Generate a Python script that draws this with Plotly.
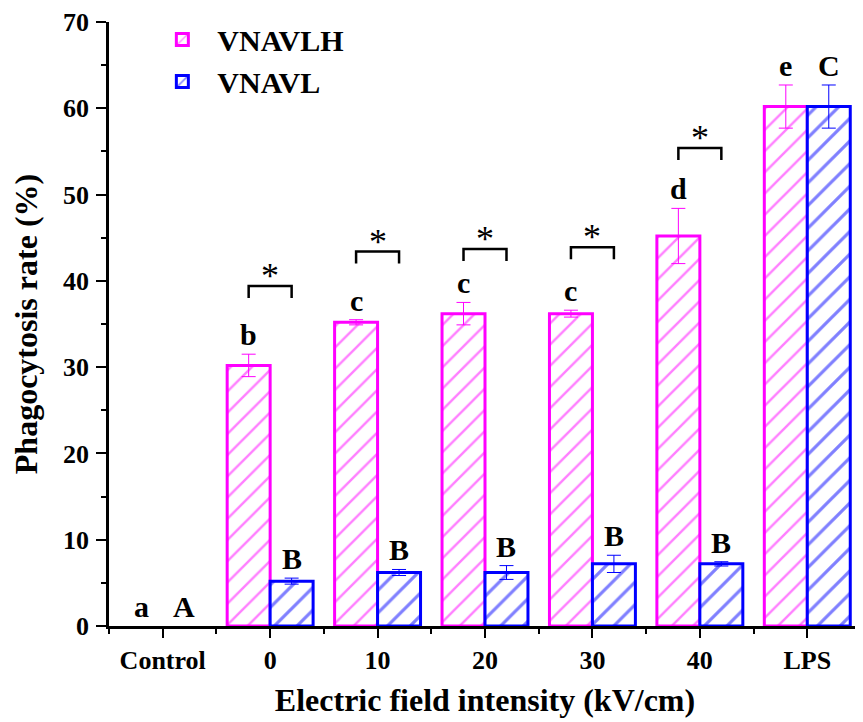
import plotly.graph_objects as go

categories = ["Control", "0", "10", "20", "30", "40", "LPS"]
vnavlh = [0, 30.2, 35.2, 36.2, 36.2, 45.2, 60.2]
vnavlh_err = [0, 1.3, 0.3, 1.3, 0.4, 3.2, 2.5]
vnavl = [0, 5.2, 6.2, 6.2, 7.2, 7.2, 60.2]
vnavl_err = [0, 0.35, 0.35, 0.8, 1.0, 0.25, 2.5]
letters_h = ["a", "b", "c", "c", "c", "d", "e"]
letters_l = ["A", "B", "B", "B", "B", "B", "C"]
sig_groups = ["0", "10", "20", "30", "40"]
sig_levels = [39.4, 43.4, 43.7, 43.9, 55.4]

MAG = "#FF00FF"
BLU = "#0000FF"
FONT = "Liberation Serif"

x = list(range(len(categories)))


def visible(vals):
    # a zero-height bar is not drawn in the reference
    return [v if v else None for v in vals]


fig = go.Figure()
fig.add_trace(go.Bar(
    x=x, y=visible(vnavlh), name="VNAVLH",
    marker=dict(color="white", line=dict(color=MAG, width=3),
                pattern=dict(shape="/", fgcolor=MAG, bgcolor="white", size=15, solidity=0.16)),
    error_y=dict(type="data", array=vnavlh_err, color=MAG, thickness=1, width=7),
))
fig.add_trace(go.Bar(
    x=x, y=visible(vnavl), name="VNAVL",
    marker=dict(color="white", line=dict(color=BLU, width=3),
                pattern=dict(shape="/", fgcolor=BLU, bgcolor="white", size=16, solidity=0.2)),
    error_y=dict(type="data", array=vnavl_err, color=BLU, thickness=1, width=7),
))

off = 0.2
annotations = []
for i in x:
    annotations.append(dict(x=i - off, y=vnavlh[i] + vnavlh_err[i], text=letters_h[i],
                            xref="x", yref="y", showarrow=False, yanchor="bottom", yshift=1,
                            font=dict(family=FONT, size=30, color="black", weight="bold")))
    annotations.append(dict(x=i + off, y=vnavl[i] + vnavl_err[i], text=letters_l[i],
                            xref="x", yref="y", showarrow=False, yanchor="bottom", yshift=1,
                            font=dict(family=FONT, size=30, color="black", weight="bold")))

shapes = []
for g, lvl in zip(sig_groups, sig_levels):
    i = categories.index(g)
    leg = 1.4
    shapes.append(dict(type="path", xref="x", yref="y",
                       path=f"M {i-off},{lvl-leg} L {i-off},{lvl} L {i+off},{lvl} L {i+off},{lvl-leg}",
                       line=dict(color="black", width=2.5)))
    annotations.append(dict(x=i, y=lvl, text="*", xref="x", yref="y", showarrow=False,
                            yanchor="bottom", yshift=-12,
                            font=dict(family=FONT, size=36, color="black")))

# the page body adds an 8 px offset, so the figure is 8 px smaller on each axis
fig.update_layout(
    width=855, height=714,
    margin=dict(l=101, r=2, t=14, b=96),
    plot_bgcolor="white", paper_bgcolor="white",
    barmode="group", bargap=0.2, bargroupgap=0,
    font=dict(family=FONT, color="black"),
    shapes=shapes, annotations=annotations,
    legend=dict(x=0.051, y=1.014, xanchor="left", yanchor="top",
                font=dict(family=FONT, size=30, color="black", weight="bold"),
                bgcolor="rgba(0,0,0,0)", itemwidth=60, tracegroupgap=0),
    xaxis=dict(range=[-0.5, 6.5], tickmode="array", tickvals=x, ticktext=categories,
               automargin=False,
               showline=True, linecolor="black", linewidth=2.5, mirror=False,
               ticks="outside", ticklen=9, tickwidth=2, tickcolor="black",
               minor=dict(tickmode="array", tickvals=[i + 0.5 for i in range(-1, 7)],
                          ticks="outside", ticklen=5, tickwidth=2, tickcolor="black"),
               showgrid=False, zeroline=False, ticklabelstandoff=0,
               tickfont=dict(family=FONT, size=26, color="black", weight="bold"),
               title=dict(text="Electric field intensity (kV/cm)", standoff=15,
                          font=dict(family=FONT, size=32, color="black", weight="bold"))),
    yaxis=dict(range=[0, 70], dtick=10, tick0=0, automargin=False,
               showline=True, linecolor="black", linewidth=2.5,
               ticks="outside", ticklen=10, tickwidth=2, tickcolor="black",
               minor=dict(dtick=5, ticks="outside", ticklen=5, tickwidth=2, tickcolor="black"),
               showgrid=False, zeroline=False, ticklabelstandoff=2,
               tickfont=dict(family=FONT, size=26, color="black", weight="bold"),
               title=dict(text="Phagocytosis rate (%)", standoff=18,
                          font=dict(family=FONT, size=32, color="black", weight="bold"))),
)

fig.write_html("out.html")
